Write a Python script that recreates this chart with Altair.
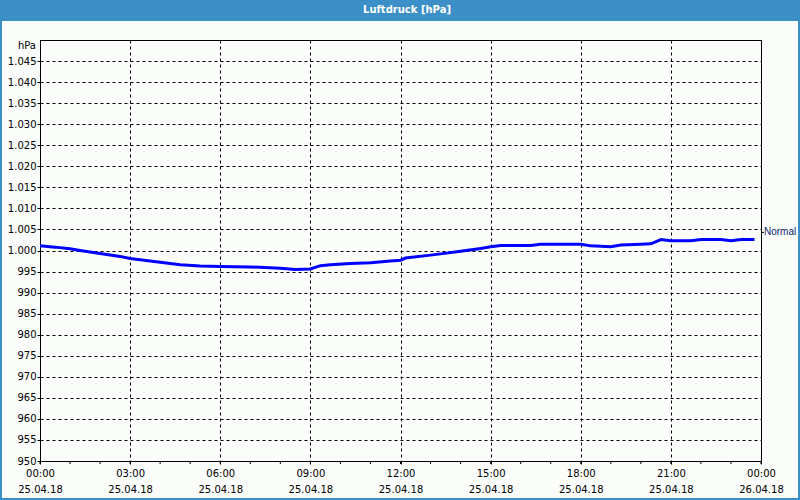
import altair as alt
import pandas as pd

# ---- data ----
times = [
    "2018-04-25T00:00", "2018-04-25T00:30", "2018-04-25T01:00", "2018-04-25T01:20",
    "2018-04-25T02:00", "2018-04-25T02:40", "2018-04-25T03:00", "2018-04-25T03:40",
    "2018-04-25T04:00", "2018-04-25T04:40", "2018-04-25T05:20", "2018-04-25T06:00",
    "2018-04-25T07:00", "2018-04-25T08:00", "2018-04-25T08:30", "2018-04-25T09:00",
    "2018-04-25T09:20", "2018-04-25T09:40", "2018-04-25T10:20", "2018-04-25T11:00",
    "2018-04-25T11:40", "2018-04-25T12:00", "2018-04-25T12:10", "2018-04-25T13:00",
    "2018-04-25T13:20", "2018-04-25T14:00", "2018-04-25T14:40", "2018-04-25T15:00",
    "2018-04-25T15:20", "2018-04-25T16:20", "2018-04-25T16:40", "2018-04-25T18:00",
    "2018-04-25T18:20", "2018-04-25T19:00", "2018-04-25T19:20", "2018-04-25T20:00",
    "2018-04-25T20:20", "2018-04-25T20:40", "2018-04-25T21:00", "2018-04-25T21:40",
    "2018-04-25T22:00", "2018-04-25T22:40", "2018-04-25T23:00", "2018-04-25T23:20",
    "2018-04-25T23:47",
]
pressure = [
    1001.1, 1000.8, 1000.4, 1000.0,
    999.3, 998.6, 998.1, 997.5,
    997.2, 996.6, 996.3, 996.2,
    996.1, 995.8, 995.5, 995.6,
    996.4, 996.6, 996.9, 997.1,
    997.5, 997.7, 998.2, 998.9,
    999.2, 999.8, 1000.5, 1000.9,
    1001.2, 1001.2, 1001.5, 1001.5,
    1001.1, 1000.9, 1001.3, 1001.5,
    1001.6, 1002.6, 1002.3, 1002.3,
    1002.6, 1002.6, 1002.3, 1002.6,
    1002.6,
]
minor_tick_times = [f"2018-04-25T{h:02d}:00" for h in range(24)] + ["2018-04-26T00:00"]
major_hours = [0, 3, 6, 9, 12, 15, 18, 21]
y_ticks = list(range(950, 1050, 5))
normal_label = ["Normal"]
normal_value = [1004.3]
title_text = "Luftdruck [hPa]"
unit_text = "hPa"

# ---- styling ----
BG = "#fbfdfb"
BAR = "#3d90c7"
FONT = "DejaVu Sans"
W, H = 721, 421

df = pd.DataFrame({"t": times, "p": pressure})
minor_df = pd.DataFrame({"t": minor_tick_times})
normal_df = pd.DataFrame({"p": normal_value, "lab": normal_label})
one = pd.DataFrame({"a": [0]})

x_values = [alt.DateTime(year=2018, month=4, date=25, hours=h) for h in major_hours] + [
    alt.DateTime(year=2018, month=4, date=26, hours=0)
]
x_scale = alt.Scale(domain=[alt.DateTime(year=2018, month=4, date=25, hours=0),
                            alt.DateTime(year=2018, month=4, date=26, hours=0)])
y_scale = alt.Scale(domain=[950, 1050], nice=False, zero=False)

x_axis = alt.Axis(
    values=x_values, title=None, grid=True, gridColor="black", gridDash=[3, 3], gridWidth=1,
    tickSize=3, tickColor="black", domainColor="black", labelColor="black",
    labelFont=FONT, labelFontSize=10, labelPadding=4, labelLineHeight=16,
    labelFlush=False, labelOverlap=False,
    labelExpr="[timeFormat(datum.value, '%H:%M'), timeFormat(datum.value, '%d.%m.%y')]",
)
y_axis = alt.Axis(
    values=y_ticks, title=None, grid=True, gridColor="black", gridDash=[3, 3], gridWidth=1,
    tickSize=3, tickColor="black", domainColor="black", labelColor="black",
    labelFont=FONT, labelFontSize=10, labelPadding=1, labelOverlap=False,
    labelExpr="replace(format(datum.value, ','), ',', '.')",
)

line = alt.Chart(df).mark_line(color="#0000ff", strokeWidth=3).encode(
    x=alt.X("t:T", scale=x_scale, axis=x_axis),
    y=alt.Y("p:Q", scale=y_scale, axis=y_axis),
)

minor = alt.Chart(minor_df).mark_rule(color="black", strokeWidth=1).encode(
    x=alt.X("t:T", scale=x_scale, axis=x_axis),
    y=alt.value(H),
    y2=alt.value(H + 3),
)

normal_tick = alt.Chart(normal_df).mark_rule(color="black", strokeWidth=1).encode(
    x=alt.value(W), x2=alt.value(W + 3),
    y=alt.Y("p:Q", scale=y_scale, axis=y_axis),
)
normal_text = alt.Chart(normal_df).mark_text(
    align="left", baseline="middle", font="Liberation Sans", fontSize=10, color="#0a246a"
).encode(
    x=alt.value(W + 3),
    y=alt.Y("p:Q", scale=y_scale, axis=y_axis),
    text="lab:N",
)

unit = alt.Chart(one).mark_text(
    align="right", baseline="middle", font=FONT, fontSize=10, color="black"
).encode(x=alt.value(-4), y=alt.value(6), text=alt.value(unit_text))

title_bar = alt.Chart(one).mark_rect(color=BAR).encode(
    x=alt.value(-40), x2=alt.value(760), y=alt.value(-40), y2=alt.value(-19)
)
title = alt.Chart(one).mark_text(
    align="center", baseline="middle", font=FONT, fontSize=10, fontWeight="bold", color="white"
).encode(x=alt.value(367), y=alt.value(-30), text=alt.value(title_text))

left_border = alt.Chart(one).mark_rect(color=BAR).encode(
    x=alt.value(-40), x2=alt.value(-38), y=alt.value(-19), y2=alt.value(460)
)
right_border = alt.Chart(one).mark_rect(color=BAR).encode(
    x=alt.value(758), x2=alt.value(760), y=alt.value(-19), y2=alt.value(460)
)
bottom_border = alt.Chart(one).mark_rect(color=BAR).encode(
    x=alt.value(-40), x2=alt.value(760), y=alt.value(458), y2=alt.value(460)
)

chart = alt.layer(
    line, minor, normal_tick, normal_text, unit,
    title_bar, title, left_border, right_border, bottom_border,
).properties(
    width=W, height=H,
    autosize=alt.AutoSizeParams(type="none"),
    padding={"left": 40, "top": 40, "right": 39, "bottom": 39},
    background=BG,
).configure_view(stroke="black", strokeWidth=1, fill=BG)

chart.save("out.html", embed_options={"renderer": "svg", "actions": False})
